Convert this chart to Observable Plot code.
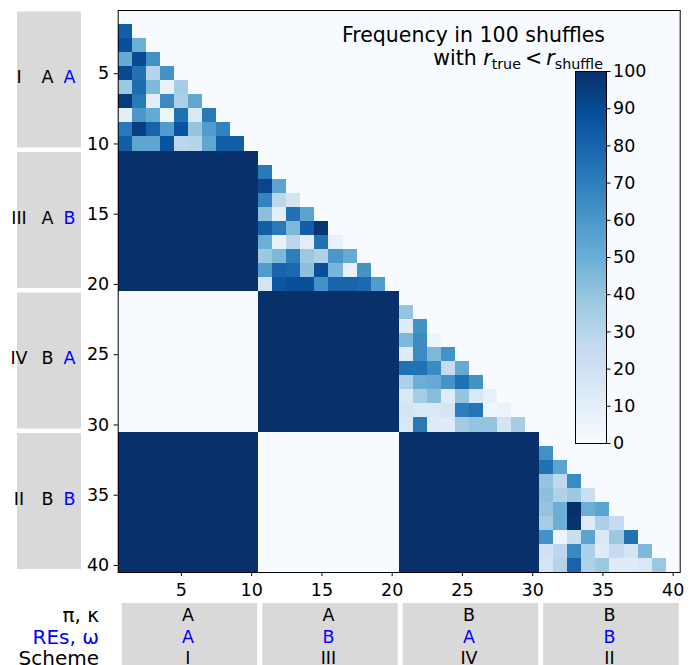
<!DOCTYPE html>
<html><head><meta charset="utf-8">
<script src="https://cdn.jsdelivr.net/npm/d3@7"></script>
<script src="https://cdn.jsdelivr.net/npm/@observablehq/plot@0.6"></script>
<style>
body{margin:0;background:#fff;}
#wrap{position:relative;width:694px;height:665px;overflow:hidden;font-family:"DejaVu Sans",sans-serif;}
#cbar{position:absolute;left:573px;top:61px;}
</style></head><body><div id="wrap"></div>
<script>
// ---------- data ----------
const groupSchemes  = ["I", "III", "IV", "II"];
const groupPiKappa  = ["A", "A", "B", "B"];
const groupREsOmega = ["A", "B", "A", "B"];
const rowLabels = ["π, κ", "REs, ω", "Scheme"];
const groupSize = 10;
// value of the whole block between group i (rows) and group j (cols), j < i
const blockValues = [[], [100], [0, 100], [100, 0, 100]];
// lower triangles inside each group (row k+2 of the group, columns 1..k+1)
const triI = [
  [82],
  [88, 50],
  [52, 90, 63],
  [90, 75, 30, 62],
  [38, 77, 45, 7, 35],
  [96, 72, 10, 65, 33, 53],
  [10, 60, 52, 5, 75, 15, 72],
  [72, 95, 80, 58, 87, 40, 58, 68],
  [82, 54, 54, 87, 28, 30, 53, 82, 82]
];
const triIII = [
  [72],
  [92, 55],
  [68, 28, 18],
  [42, 10, 75, 55],
  [82, 72, 45, 82, 98],
  [50, 8, 28, 10, 75, 8],
  [38, 45, 70, 38, 32, 60, 52],
  [58, 80, 78, 42, 88, 47, 8, 62],
  [18, 85, 88, 88, 62, 80, 80, 78, 58]
];
const triIV = [
  [40],
  [12, 62],
  [45, 65, 5],
  [13, 65, 45, 62],
  [75, 75, 65, 25, 52],
  [33, 50, 52, 62, 75, 62],
  [15, 35, 43, 12, 40, 15, 8],
  [18, 15, 15, 17, 70, 74, 4, 6],
  [15, 72, 12, 13, 36, 40, 40, 18, 35]
];
const triII = [
  [63],
  [75, 55],
  [40, 27, 65],
  [42, 32, 38, 22],
  [40, 50, 100, 50, 55],
  [35, 50, 99, 12, 33, 25],
  [62, 5, 23, 55, 15, 38, 75],
  [20, 28, 66, 33, 12, 25, 18, 45],
  [18, 30, 80, 32, 38, 12, 12, 15, 38]
];
const triangles = [triI, triIII, triIV, triII];
const axisTicks = [5, 10, 15, 20, 25, 30, 35, 40];
const cbarTicks = [0, 10, 20, 30, 40, 50, 60, 70, 80, 90, 100];
const bluesStops  = [0, 12.5, 25, 37.5, 50, 62.5, 75, 87.5, 100];
const bluesColors = ["#f7fbff", "#deebf7", "#c6dbef", "#9ecae1", "#6baed6", "#4292c6", "#2171b5", "#08519c", "#08306b"];

// ---------- build the cell table ----------
const cells = [];
for (let gi = 0; gi < 4; gi++) {
  for (let gj = 0; gj < gi; gj++)
    for (let r = 0; r < groupSize; r++)
      for (let c = 0; c < groupSize; c++)
        cells.push({row: gi * groupSize + r + 1, col: gj * groupSize + c + 1, value: blockValues[gi][gj]});
  triangles[gi].forEach((vals, k) => vals.forEach((v, c) =>
    cells.push({row: gi * groupSize + k + 2, col: gi * groupSize + c + 1, value: v})));
}

const color = {type: "linear", domain: bluesStops, range: bluesColors};
const FONT = "DejaVu Sans";
const FS = 17.5;

const plot = Plot.plot({
  width: 694, height: 665,
  marginLeft: 117.7, marginRight: 14.3, marginTop: 10, marginBottom: 93,
  style: {fontFamily: FONT, fontSize: FS + "px", color: "black", background: "white", overflow: "visible"},
  x: {domain: [0.5, 40.5]},
  y: {domain: [0.5, 40.5], reverse: true},
  color,
  marks: [
    Plot.frame({fill: bluesColors[0]}),
    Plot.rect(cells, {
      x1: d => d.col - 0.5, x2: d => d.col + 0.5,
      y1: d => d.row - 0.5, y2: d => d.row + 0.5,
      fill: "value", inset: 0, shapeRendering: "crispEdges"
    }),
    Plot.frame({stroke: "black", strokeWidth: 1}),
    Plot.axisX({ticks: axisTicks, tickSize: 4, tickPadding: 7, fontSize: FS, label: null}),
    Plot.axisY({ticks: axisTicks, tickSize: 4, tickPadding: 5, fontSize: FS, label: null})
  ]
});
document.getElementById("wrap").appendChild(plot);

// ---------- annotations using the plot's own scales ----------
const sx = plot.scale("x"), sy = plot.scale("y");
const svg = d3.select(plot);
const ann = svg.append("g").attr("font-family", FONT).attr("font-size", FS);

// left group boxes
for (let g = 0; g < 4; g++) {
  const y1 = sy.apply(g * groupSize + 0.5) + 1.5;
  const y2 = sy.apply(g * groupSize + groupSize + 0.5) - 3;
  ann.append("rect").attr("x", 17).attr("width", 64).attr("y", y1).attr("height", y2 - y1).attr("fill", "#d9d9d9");
  const base = sy.apply(g * groupSize + 5) + 10;
  ann.append("text").attr("x", 19).attr("y", base).text(groupSchemes[g]);
  ann.append("text").attr("x", 47.5).attr("y", base).attr("text-anchor", "middle").text(groupPiKappa[g]);
  ann.append("text").attr("x", 69.5).attr("y", base).attr("text-anchor", "middle").attr("fill", "#0000ff").text(groupREsOmega[g]);
}

// bottom group boxes
const rowBase = [621.4, 643, 664];
const rowColor = ["black", "#0000ff", "black"];
for (let g = 0; g < 4; g++) {
  const x1 = sx.apply(g * groupSize + 0.5) + 4;
  const x2 = sx.apply(g * groupSize + groupSize + 0.5) - 1;
  ann.append("rect").attr("x", x1).attr("width", x2 - x1).attr("y", 603).attr("height", 80).attr("fill", "#d9d9d9");
  const cx = sx.apply(g * groupSize + 5.5);
  [groupPiKappa[g], groupREsOmega[g], groupSchemes[g]].forEach((t, i) =>
    ann.append("text").attr("x", cx).attr("y", rowBase[i]).attr("text-anchor", "middle").attr("fill", rowColor[i]).text(t));
}
rowLabels.forEach((t, i) =>
  ann.append("text").attr("x", 99).attr("y", rowBase[i] + 0.5).attr("text-anchor", "end").attr("font-size", 20)
    .attr("fill", rowColor[i]).text(t));

// title
const TF = 20.5, SF = 14.3;
ann.append("text").attr("x", 605).attr("y", 41.7).attr("text-anchor", "end").attr("font-size", TF).text("Frequency in 100 shuffles");
const t2 = ann.append("text").attr("x", 603).attr("y", 65).attr("text-anchor", "end").attr("font-size", TF);
t2.append("tspan").text("with ");
t2.append("tspan").attr("font-style", "italic").text("r");
t2.append("tspan").attr("font-size", SF).attr("dy", 3.5).text("true");
t2.append("tspan").attr("dy", -3.5).text("\u2009<\u2009");
t2.append("tspan").attr("font-style", "italic").text("r");
t2.append("tspan").attr("font-size", SF).attr("dy", 3.5).text("shuffle");

// ---------- colorbar ----------
const gradientSamples = d3.range(0, 100, 0.5);
const cbar = Plot.plot({
  width: 80, height: 392,
  marginLeft: 2, marginRight: 47, marginTop: 10, marginBottom: 10,
  style: {fontFamily: FONT, fontSize: FS + "px", color: "black", background: "transparent", overflow: "visible"},
  x: {domain: [0, 1], axis: null},
  y: {domain: [0, 100]},
  color,
  marks: [
    Plot.rect(gradientSamples, {x1: 0, x2: 1, y1: d => d, y2: d => d + 0.5, fill: d => d + 0.25, shapeRendering: "crispEdges"}),
    Plot.frame({stroke: "black", strokeWidth: 1}),
    Plot.axisY({anchor: "right", ticks: cbarTicks, tickSize: 3.5, tickPadding: 3, fontSize: FS, label: null})
  ]
});
cbar.id = "cbar";
document.getElementById("wrap").appendChild(cbar);
</script>
</body></html>
